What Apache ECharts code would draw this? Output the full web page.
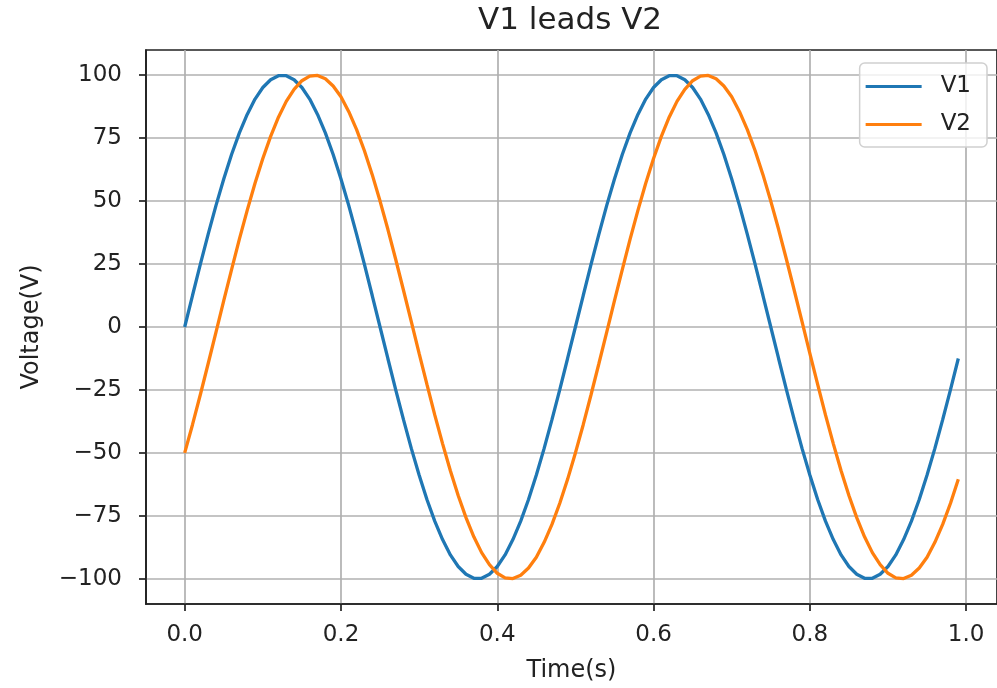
<!DOCTYPE html>
<html>
<head>
<meta charset="utf-8">
<script src="https://cdn.jsdelivr.net/npm/echarts@6/dist/echarts.min.js"></script>
<style>
  html, body { margin: 0; padding: 0; background: #fff; }
  #chart { width: 997px; height: 688px; }
</style>
</head>
<body>
<div id="chart"></div>
<script>
const time = [
    0.00, 0.01, 0.02, 0.03, 0.04, 0.05, 0.06, 0.07, 0.08, 0.09,
    0.10, 0.11, 0.12, 0.13, 0.14, 0.15, 0.16, 0.17, 0.18, 0.19,
    0.20, 0.21, 0.22, 0.23, 0.24, 0.25, 0.26, 0.27, 0.28, 0.29,
    0.30, 0.31, 0.32, 0.33, 0.34, 0.35, 0.36, 0.37, 0.38, 0.39,
    0.40, 0.41, 0.42, 0.43, 0.44, 0.45, 0.46, 0.47, 0.48, 0.49,
    0.50, 0.51, 0.52, 0.53, 0.54, 0.55, 0.56, 0.57, 0.58, 0.59,
    0.60, 0.61, 0.62, 0.63, 0.64, 0.65, 0.66, 0.67, 0.68, 0.69,
    0.70, 0.71, 0.72, 0.73, 0.74, 0.75, 0.76, 0.77, 0.78, 0.79,
    0.80, 0.81, 0.82, 0.83, 0.84, 0.85, 0.86, 0.87, 0.88, 0.89,
    0.90, 0.91, 0.92, 0.93, 0.94, 0.95, 0.96, 0.97, 0.98, 0.99
];

const v1 = [
    0, 12.5, 24.9, 36.8, 48.2, 58.8, 68.5, 77.1, 84.4, 90.5,
    95.1, 98.2, 99.8, 99.8, 98.2, 95.1, 90.5, 84.4, 77.1, 68.5,
    58.8, 48.2, 36.8, 24.9, 12.5, 0, -12.5, -24.9, -36.8, -48.2,
    -58.8, -68.5, -77.1, -84.4, -90.5, -95.1, -98.2, -99.8, -99.8, -98.2,
    -95.1, -90.5, -84.4, -77.1, -68.5, -58.8, -48.2, -36.8, -24.9, -12.5,
    0, 12.5, 24.9, 36.8, 48.2, 58.8, 68.5, 77.1, 84.4, 90.5,
    95.1, 98.2, 99.8, 99.8, 98.2, 95.1, 90.5, 84.4, 77.1, 68.5,
    58.8, 48.2, 36.8, 24.9, 12.5, 0, -12.5, -24.9, -36.8, -48.2,
    -58.8, -68.5, -77.1, -84.4, -90.5, -95.1, -98.2, -99.8, -99.8, -98.2,
    -95.1, -90.5, -84.4, -77.1, -68.5, -58.8, -48.2, -36.8, -24.9, -12.5
];

const v2 = [
    -50, -38.8, -26.9, -14.6, -2.1, 10.5, 22.8, 34.9, 46.3, 57.1,
    66.9, 75.7, 83.3, 89.6, 94.4, 97.8, 99.6, 99.9, 98.6, 95.7,
    91.4, 85.5, 78.4, 70.0, 60.5, 50, 38.8, 26.9, 14.6, 2.1,
    -10.5, -22.8, -34.9, -46.3, -57.1, -66.9, -75.7, -83.3, -89.6, -94.4,
    -97.8, -99.6, -99.9, -98.6, -95.7, -91.4, -85.5, -78.4, -70.0, -60.5,
    -50, -38.8, -26.9, -14.6, -2.1, 10.5, 22.8, 34.9, 46.3, 57.1,
    66.9, 75.7, 83.3, 89.6, 94.4, 97.8, 99.6, 99.9, 98.6, 95.7,
    91.4, 85.5, 78.4, 70.0, 60.5, 50, 38.8, 26.9, 14.6, 2.1,
    -10.5, -22.8, -34.9, -46.3, -57.1, -66.9, -75.7, -83.3, -89.6, -94.4,
    -97.8, -99.6, -99.9, -98.6, -95.7, -91.4, -85.5, -78.4, -70.0, -60.5
];

const xTicks = [0, 0.2, 0.4, 0.6, 0.8, 1.0];
const yTicks = [-100, -75, -50, -25, 0, 25, 50, 75, 100];

const font = 'DejaVu Sans';
const ink = '#222';

const chart = echarts.init(document.getElementById('chart'));

chart.setOption({
    animation: false,
    title: {
        text: 'V1 leads V2',
        left: 478,
        top: 5,
        padding: 0,
        textStyle: { fontFamily: font, fontSize: 31, fontWeight: 'normal', color: ink }
    },
    legend: {
        orient: 'vertical',
        right: 10,
        top: 63,
        padding: [12, 16, 11, 6],
        itemGap: 15,
        itemWidth: 56,
        itemHeight: 3,
        icon: 'rect',
        borderColor: '#d0d0d0',
        borderWidth: 1.5,
        borderRadius: 5,
        backgroundColor: 'rgba(255,255,255,0.8)',
        textStyle: { fontFamily: font, fontSize: 23, color: ink, padding: [0, 0, 0, 14] },
        data: ['V1', 'V2']
    },
    grid: {
        left: 146,
        top: 50,
        width: 854,
        height: 556,
        show: true,
        borderColor: ink,
        borderWidth: 1.7
    },
    xAxis: {
        type: 'value',
        min: -0.0495,
        max: 1.0395,
        name: 'Time(s)',
        nameLocation: 'middle',
        nameGap: 55,
        nameTextStyle: { fontFamily: font, fontSize: 24, color: ink },
        axisLine: { show: true, onZero: false, lineStyle: { color: ink, width: 1.7 } },
        axisTick: { show: true, length: 7, customValues: xTicks, lineStyle: { color: ink, width: 1.7 } },
        axisLabel: {
            customValues: xTicks,
            margin: 20,
            fontFamily: font,
            fontSize: 23,
            color: ink,
            formatter: v => v.toFixed(1)
        },
        splitLine: { show: true, lineStyle: { color: '#b0b0b0', width: 1.7 } }
    },
    yAxis: {
        type: 'value',
        min: -110,
        max: 110,
        name: 'Voltage(V)',
        nameLocation: 'middle',
        nameGap: 102,
        nameTextStyle: { fontFamily: font, fontSize: 24, color: ink },
        axisLine: { show: true, onZero: false, lineStyle: { color: ink, width: 1.7 } },
        axisTick: { show: true, length: 7, customValues: yTicks, lineStyle: { color: ink, width: 1.7 } },
        axisLabel: {
            customValues: yTicks,
            margin: 24,
            fontFamily: font,
            fontSize: 23,
            color: ink,
            formatter: v => String(v).replace('-', '\u2212')
        },
        splitLine: { show: true, lineStyle: { color: '#b0b0b0', width: 1.7 } }
    },
    series: [
        {
            name: 'V1',
            type: 'line',
            showSymbol: false,
            color: '#1f77b4',
            lineStyle: { width: 3.3 },
            data: time.map((t, i) => [t, v1[i]])
        },
        {
            name: 'V2',
            type: 'line',
            showSymbol: false,
            color: '#ff7f0e',
            lineStyle: { width: 3.3 },
            data: time.map((t, i) => [t, v2[i]])
        }
    ]
});

window.addEventListener('resize', () => chart.resize());
</script>
</body>
</html>
